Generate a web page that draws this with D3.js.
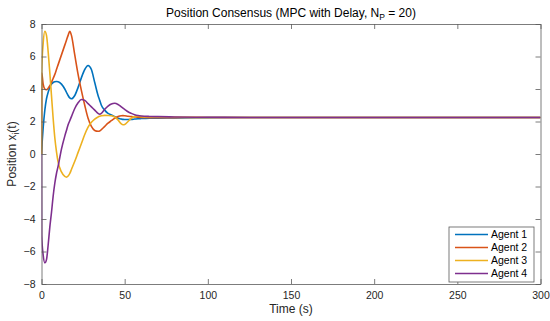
<!DOCTYPE html>
<html><head><meta charset="utf-8">
<script src="https://cdn.jsdelivr.net/npm/d3@7"></script>
<style>
html,body{margin:0;padding:0;background:#fff;}
svg{display:block;font-family:"Liberation Sans",Arial,Helvetica,sans-serif;}
</style></head>
<body><svg id="c" width="550" height="321"></svg>
<script>
const time = [0, 0.1, 1, 2, 3, 4, 5, 6, 7, 8, 9, 10, 12, 14, 15, 16, 17, 18, 20, 22, 24, 26, 28, 30, 32, 34, 35, 36, 38, 40, 42, 44, 46, 48, 49, 50, 52, 54, 56, 58, 60, 65, 70, 80, 100, 125, 150, 200, 250, 300];
const agent1 = [0, 0.2, 1.6, 2.7, 3.4, 3.8, 4.1, 4.3, 4.4, 4.45, 4.46, 4.45, 4.3, 4.0, 3.8, 3.6, 3.45, 3.4, 3.6, 4.1, 4.7, 5.2, 5.45, 5.2, 4.4, 3.6, 3.3, 3.0, 2.7, 2.5, 2.4, 2.3, 2.2, 2.15, 2.13, 2.12, 2.12, 2.13, 2.15, 2.17, 2.18, 2.2, 2.21, 2.22, 2.24, 2.25, 2.25, 2.25, 2.25, 2.25];
const agent2 = [0, 5.0, 4.3, 4.0, 3.95, 4.05, 4.2, 4.4, 4.65, 4.9, 5.2, 5.5, 6.1, 6.7, 7.0, 7.3, 7.55, 7.3, 6.1, 4.9, 3.9, 3.0, 2.2, 1.7, 1.45, 1.4, 1.42, 1.5, 1.7, 1.9, 2.05, 2.2, 2.3, 2.35, 2.36, 2.35, 2.32, 2.3, 2.28, 2.26, 2.25, 2.24, 2.24, 2.24, 2.25, 2.25, 2.25, 2.25, 2.25, 2.25];
const agent3 = [0, 5.0, 6.8, 7.55, 7.3, 6.3, 5.0, 3.6, 2.2, 1.0, 0.15, -0.5, -1.1, -1.38, -1.42, -1.35, -1.2, -0.95, -0.45, 0.1, 0.65, 1.2, 1.65, 1.95, 2.15, 2.28, 2.32, 2.35, 2.38, 2.37, 2.35, 2.28, 2.1, 1.85, 1.8, 1.82, 2.0, 2.2, 2.3, 2.32, 2.3, 2.28, 2.27, 2.26, 2.25, 2.25, 2.25, 2.25, 2.25, 2.25];
const agent4 = [0, -5.0, -6.2, -6.7, -6.5, -5.6, -4.5, -3.6, -2.6, -1.8, -1.2, -0.75, 0.3, 1.1, 1.45, 1.8, 2.05, 2.3, 2.8, 3.15, 3.35, 3.3, 3.1, 2.9, 2.7, 2.5, 2.45, 2.5, 2.75, 2.95, 3.08, 3.12, 3.05, 2.9, 2.82, 2.75, 2.6, 2.5, 2.42, 2.37, 2.34, 2.31, 2.3, 2.28, 2.26, 2.25, 2.25, 2.25, 2.25, 2.25];
const seriesNames = ["Agent 1", "Agent 2", "Agent 3", "Agent 4"];
const colors = ["#0072BD", "#D95319", "#EDB120", "#7E2F8E"];
const xTicks = [0, 50, 100, 150, 200, 250, 300];
const yTicks = [-8, -6, -4, -2, 0, 2, 4, 6, 8];

const L = 41.5, R = 540.5, T = 24, B = 284;
const svg = d3.select("#c");
const x = d3.scaleLinear().domain([0, 300]).range([L, R]);
const y = d3.scaleLinear().domain([-8, 8]).range([B, T]);
const axisColor = "#262626";
const frameColor = "#5a5a5a";

const all = [agent1, agent2, agent3, agent4];
const line = d3.line().x((d, i) => x(time[i])).y(d => y(d)).curve(d3.curveMonotoneX);
svg.append("clipPath").attr("id", "pc").append("rect")
  .attr("x", L).attr("y", T).attr("width", R - L).attr("height", B - T);
const g = svg.append("g").attr("clip-path", "url(#pc)");
all.forEach((s, k) => {
  g.append("path").datum(s).attr("d", line).attr("fill", "none")
    .attr("stroke", colors[k]).attr("stroke-width", 1.6).attr("stroke-linejoin", "round");
});

const tl = 5;
const xb = svg.append("g").attr("transform", `translate(0,${B})`)
  .call(d3.axisBottom(x).tickValues(xTicks).tickSizeInner(-tl).tickSizeOuter(0).tickPadding(8));
const xt = svg.append("g").attr("transform", `translate(0,${T})`)
  .call(d3.axisTop(x).tickValues(xTicks).tickSizeInner(-tl).tickSizeOuter(0).tickFormat(""));
const yl = svg.append("g").attr("transform", `translate(${L},0)`)
  .call(d3.axisLeft(y).tickValues(yTicks).tickSizeInner(-tl).tickSizeOuter(0).tickPadding(6)
    .tickFormat(d => d < 0 ? "\u2212" + Math.abs(d) : d));
const yr = svg.append("g").attr("transform", `translate(${R},0)`)
  .call(d3.axisRight(y).tickValues(yTicks).tickSizeInner(-tl).tickSizeOuter(0).tickFormat(""));
[xb, xt, yl, yr].forEach(a => {
  a.select(".domain").attr("stroke", frameColor).attr("stroke-width", 0.8);
  a.selectAll(".tick line").attr("stroke", frameColor).attr("stroke-width", 0.8);
  a.selectAll(".tick text").attr("fill", axisColor).attr("font-size", 10.5)
    .attr("font-family", "Liberation Sans, Arial, sans-serif");
});

const title = svg.append("text").attr("x", (L + R) / 2).attr("y", 17)
  .attr("text-anchor", "middle").attr("font-size", 12).attr("fill", "#000");
title.append("tspan").text("Position Consensus (MPC with Delay, N");
title.append("tspan").attr("font-size", 8.5).attr("dy", 3).text("P");
title.append("tspan").attr("dy", -3).text(" = 20)");

svg.append("text").attr("x", (L + R) / 2).attr("y", 313).attr("text-anchor", "middle")
  .attr("font-size", 12).attr("fill", axisColor).text("Time (s)");

const ylab = svg.append("text").attr("transform", `translate(16,${(T + B) / 2}) rotate(-90)`)
  .attr("text-anchor", "middle").attr("font-size", 12).attr("fill", axisColor);
ylab.append("tspan").text("Position x");
ylab.append("tspan").attr("font-size", 8.5).attr("dy", 3).text("i");
ylab.append("tspan").attr("dy", -3).text("(t)");

const lx = 449, ly = 227, lw = 85, lh = 55;
const lg = svg.append("g");
lg.append("rect").attr("x", lx).attr("y", ly).attr("width", lw).attr("height", lh)
  .attr("fill", "#fff").attr("stroke", frameColor).attr("stroke-width", 0.8);
seriesNames.forEach((n, k) => {
  const yy = ly + 7.5 + k * 13;
  lg.append("line").attr("x1", lx + 6).attr("x2", lx + 39).attr("y1", yy).attr("y2", yy)
    .attr("stroke", colors[k]).attr("stroke-width", 1.6);
  lg.append("text").attr("x", lx + 42).attr("y", yy + 3.5).attr("font-size", 10.5)
    .attr("fill", "#000").text(n);
});
</script></body></html>
